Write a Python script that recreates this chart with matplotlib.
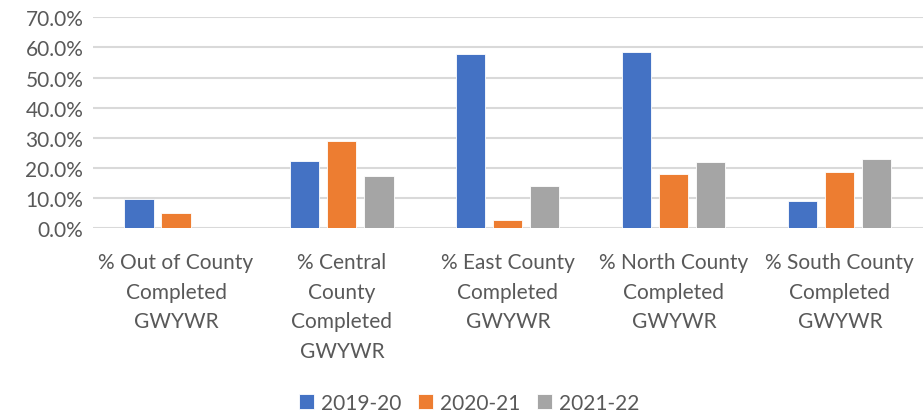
import matplotlib
matplotlib.use("Agg")
import matplotlib.pyplot as plt
from matplotlib.ticker import FuncFormatter
import numpy as np

categories = ["% Out of County\nCompleted\nGWYWR",
              "% Central\nCounty\nCompleted\nGWYWR",
              "% East County\nCompleted\nGWYWR",
              "% North County\nCompleted\nGWYWR",
              "% South County\nCompleted\nGWYWR"]
series_names = ["2019-20", "2020-21", "2021-22"]
v2019 = [0.096, 0.224, 0.578, 0.584, 0.090]
v2020 = [0.051, 0.290, 0.028, 0.179, 0.187]
v2021 = [0.0, 0.173, 0.140, 0.220, 0.229]
colors = ["#4472C4", "#ED7D31", "#A5A5A5"]

plt.rcParams['font.family'] = ['Lato', 'DejaVu Sans']
text_color = "#595959"

fig = plt.figure(figsize=(9.23, 4.14), dpi=100)
ax = fig.add_axes([0.1008, 0.446, 0.899, 0.510])

x = np.arange(len(categories))
w = 0.175
off = 0.223
for i, (vals, c) in enumerate(zip([v2019, v2020, v2021], colors)):
    ax.bar(x + (i - 1) * off, vals, width=w, color=c, label=series_names[i],
           edgecolor="white", linewidth=0.6, zorder=3)

ax.set_xlim(-0.5, len(categories) - 0.5)
ax.set_ylim(0, 0.70)
ax.set_yticks(np.arange(0, 0.71, 0.1))
ax.yaxis.set_major_formatter(FuncFormatter(lambda v, p: f"{v*100:.1f}%"))
ax.grid(axis='y', color="#D9D9D9", linewidth=1.5, zorder=0)
for s in ax.spines.values():
    s.set_visible(False)
ax.tick_params(axis='both', length=0, colors=text_color, labelsize=15)
ax.tick_params(axis='y', pad=7)
ax.tick_params(axis='x', pad=17)
ax.set_xticks(x)
ax.set_xticklabels(categories, linespacing=1.6, color=text_color, va='top')

leg = fig.legend(loc='center', bbox_to_anchor=(0.508, 0.025), ncol=3, frameon=False,
                 fontsize=15, handlelength=0.75, handleheight=0.75, handletextpad=0.3,
                 columnspacing=0.8)
for t in leg.get_texts():
    t.set_color(text_color)

fig.savefig("out.png", dpi=100)
